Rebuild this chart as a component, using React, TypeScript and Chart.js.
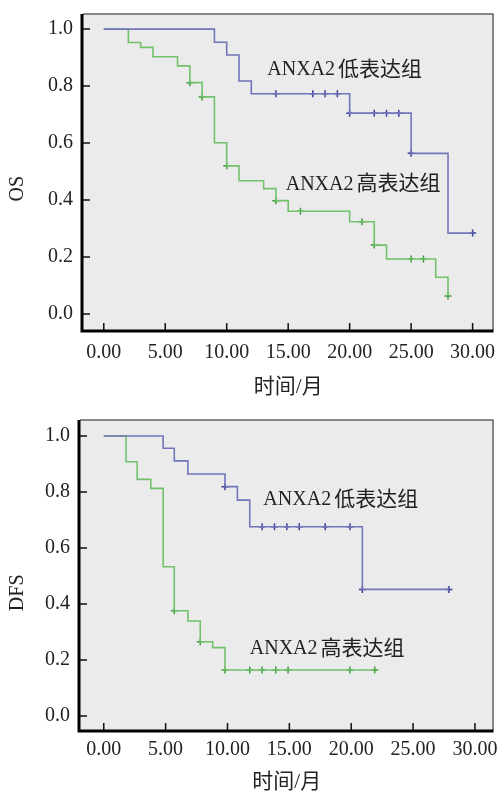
import React, { useEffect, useRef } from "react";
import { Chart, registerables } from "chart.js";

Chart.register(...registerables);

// ---------- shared tick values / labels ----------
const xTickValues = [0, 5, 10, 15, 20, 25, 30];
const yTickValues = [0, 0.2, 0.4, 0.6, 0.8, 1.0];
const groupPrefix = "ANXA2";
const groupSuffixes = ["低表达组", "高表达组"];
const xTitleText = "时间/月";

// ---------- OS chart ----------
const osLowTimes = [0, 9, 10, 11, 12, 20, 25, 28, 30];
const osLowSurv = [1, 0.954, 0.909, 0.818, 0.773, 0.705, 0.564, 0.284, 0.284];
const osLowCensorTimes = [14, 17, 18, 19, 20, 22, 23, 24, 25, 30];
const osLowCensorSurv = [0.773, 0.773, 0.773, 0.773, 0.705, 0.705, 0.705, 0.705, 0.564, 0.284];
const osHighTimes = [0, 2, 3, 4, 6, 7, 8, 9, 10, 11, 13, 14, 15, 20, 22, 23, 27, 28];
const osHighSurv = [1, 0.953, 0.936, 0.903, 0.871, 0.812, 0.762, 0.601, 0.52, 0.468, 0.44, 0.398, 0.361, 0.324, 0.242, 0.193, 0.129, 0.063];
const osHighCensorTimes = [7, 8, 10, 14, 16, 21, 22, 25, 26, 28];
const osHighCensorSurv = [0.812, 0.762, 0.52, 0.398, 0.361, 0.324, 0.242, 0.193, 0.193, 0.063];
const osLabelAnchors = [[13.3, 0.856], [14.8, 0.453]]; // [time, survival] of label left-middle

// ---------- DFS chart ----------
const dfsLowTimes = [0, 4.8, 5.7, 6.8, 9.8, 10.8, 11.8, 20.9, 27.9];
const dfsLowSurv = [1, 0.956, 0.911, 0.864, 0.819, 0.771, 0.676, 0.452, 0.452];
const dfsLowCensorTimes = [9.8, 12.8, 13.8, 14.8, 15.8, 17.9, 19.9, 20.9, 27.9];
const dfsLowCensorSurv = [0.819, 0.676, 0.676, 0.676, 0.676, 0.676, 0.676, 0.452, 0.452];
const dfsHighTimes = [0, 1.8, 2.7, 3.8, 4.8, 5.7, 6.8, 7.8, 8.8, 9.8, 21.9];
const dfsHighSurv = [1, 0.908, 0.845, 0.813, 0.533, 0.376, 0.339, 0.265, 0.244, 0.164, 0.164];
const dfsHighCensorTimes = [5.7, 7.8, 9.8, 11.8, 12.8, 13.9, 14.9, 19.9, 21.9];
const dfsHighCensorSurv = [0.376, 0.265, 0.164, 0.164, 0.164, 0.164, 0.164, 0.164, 0.164];
const dfsLabelAnchors = [[12.9, 0.771], [11.8, 0.239]];

const LOW_LINE = "#7276bb";
const LOW_MARK = "#3c3f98";
const HIGH_LINE = "#72c26c";
const HIGH_MARK = "#3f9c3c";
const BG = "#ebebeb";
const SERIF = "'Liberation Serif', 'Noto Sans CJK SC', serif";

const pts = (t: number[], s: number[]) => t.map((x, i) => ({ x, y: s[i] }));

type Spec = {
  yTitle: string;
  lowT: number[]; lowS: number[]; lowCT: number[]; lowCS: number[];
  highT: number[]; highS: number[]; highCT: number[]; highCS: number[];
  anchors: number[][];
  xMin: number; xMax: number; yMin: number; yMax: number;
  yWidth: number; xHeight: number; padTop: number;
  xTitleOffset: number; xTickPad: number;
};

function makeConfig(sp: Spec): any {
  const decor = {
    id: "decor",
    beforeDatasetsDraw(chart: any) {
      const { ctx, chartArea: a } = chart;
      ctx.save();
      ctx.fillStyle = BG;
      ctx.fillRect(a.left, a.top, a.right - a.left, a.bottom - a.top);
      ctx.restore();
    },
    afterDatasetsDraw(chart: any) {
      const { ctx, chartArea: a } = chart;
      const xs = chart.scales.x;
      const ys = chart.scales.y;
      ctx.save();
      // thin top / right frame
      ctx.strokeStyle = "#666";
      ctx.lineWidth = 1.5;
      ctx.beginPath();
      ctx.moveTo(a.left, a.top);
      ctx.lineTo(a.right - 0.5, a.top);
      ctx.lineTo(a.right - 0.5, a.bottom);
      ctx.stroke();
      // inner tick marks
      ctx.strokeStyle = "#111";
      ctx.lineWidth = 1.5;
      ctx.beginPath();
      yTickValues.forEach((v) => {
        const py = ys.getPixelForValue(v);
        ctx.moveTo(a.left, py);
        ctx.lineTo(a.left + 7, py);
      });
      xTickValues.forEach((v) => {
        const px = xs.getPixelForValue(v);
        ctx.moveTo(px, a.bottom);
        ctx.lineTo(px, a.bottom - 7);
      });
      ctx.stroke();
      // thick left / bottom axes
      ctx.strokeStyle = "#000";
      ctx.lineWidth = 3;
      ctx.beginPath();
      ctx.moveTo(a.left - 1, a.top);
      ctx.lineTo(a.left - 1, a.bottom + 1);
      ctx.lineTo(a.right, a.bottom + 1);
      ctx.stroke();
      ctx.restore();
    },
    afterDraw(chart: any) {
      const { ctx, chartArea: a } = chart;
      const xs = chart.scales.x;
      const ys = chart.scales.y;
      ctx.save();
      ctx.fillStyle = "#222";
      ctx.textAlign = "left";
      ctx.textBaseline = "middle";
      sp.anchors.forEach((an, i) => {
        const px = xs.getPixelForValue(an[0]);
        const py = ys.getPixelForValue(an[1]);
        ctx.font = `20px ${SERIF}`;
        ctx.fillText(groupPrefix, px, py);
        const w = ctx.measureText(groupPrefix).width;
        ctx.font = `21px ${SERIF}`;
        ctx.fillText(groupSuffixes[i], px + w + 3, py);
      });
      // y title
      ctx.save();
      ctx.translate(18, ys.getPixelForValue(0.44));
      ctx.rotate(-Math.PI / 2);
      ctx.textAlign = "center";
      ctx.font = `20px ${SERIF}`;
      ctx.fillText(sp.yTitle, 0, 0);
      ctx.restore();
      // x title
      ctx.textAlign = "center";
      ctx.font = `21px ${SERIF}`;
      ctx.fillText(xTitleText, (a.left + a.right) / 2, a.bottom + sp.xTitleOffset);
      ctx.restore();
    },
  };

  const lineDs = (t: number[], s: number[], color: string) => ({
    data: pts(t, s),
    borderColor: color,
    borderWidth: 1.6,
    pointRadius: 0,
    stepped: "before",
    fill: false,
  });
  const censorDs = (t: number[], s: number[], color: string) => ({
    data: pts(t, s),
    showLine: false,
    pointStyle: "cross",
    pointRadius: 3.5,
    pointBorderWidth: 1.5,
    pointBorderColor: color,
    pointBackgroundColor: color,
  });

  return {
    type: "line",
    data: {
      datasets: [
        lineDs(sp.lowT, sp.lowS, LOW_LINE),
        lineDs(sp.highT, sp.highS, HIGH_LINE),
        censorDs(sp.lowCT, sp.lowCS, LOW_MARK),
        censorDs(sp.highCT, sp.highCS, HIGH_MARK),
      ],
    },
    options: {
      animation: false,
      responsive: false,
      maintainAspectRatio: false,
      layout: { padding: { top: sp.padTop, right: 1, left: 0, bottom: 0 } },
      plugins: { legend: { display: false }, tooltip: { enabled: false }, title: { display: false } },
      scales: {
        x: {
          type: "linear",
          min: sp.xMin,
          max: sp.xMax,
          grid: { display: false, drawTicks: false },
          border: { display: false },
          afterBuildTicks: (s: any) => { s.ticks = xTickValues.map((v) => ({ value: v })); },
          afterFit: (s: any) => {
            s.height = sp.xHeight;
            s.paddingLeft = 0; s.paddingRight = 0; s.paddingTop = 0; s.paddingBottom = 0;
          },
          ticks: {
            autoSkip: false,
            maxRotation: 0,
            padding: sp.xTickPad,
            color: "#222",
            font: { family: SERIF, size: 20 },
            callback: (v: any) => Number(v).toFixed(2),
          },
        },
        y: {
          type: "linear",
          min: sp.yMin,
          max: sp.yMax,
          grid: { display: false, drawTicks: false },
          border: { display: false },
          afterBuildTicks: (s: any) => { s.ticks = yTickValues.map((v) => ({ value: v })); },
          afterFit: (s: any) => {
            s.width = sp.yWidth;
            s.paddingLeft = 0; s.paddingRight = 0; s.paddingTop = 0; s.paddingBottom = 0;
          },
          ticks: {
            autoSkip: false,
            padding: 10,
            color: "#222",
            font: { family: SERIF, size: 20 },
            callback: (v: any) => Number(v).toFixed(1),
          },
        },
      },
    },
    plugins: [decor],
  };
}

const osSpec: Spec = {
  yTitle: "OS",
  lowT: osLowTimes, lowS: osLowSurv, lowCT: osLowCensorTimes, lowCS: osLowCensorSurv,
  highT: osHighTimes, highS: osHighSurv, highCT: osHighCensorTimes, highCS: osHighCensorSurv,
  anchors: osLabelAnchors,
  xMin: -1.69, xMax: 31.7, yMin: -0.056, yMax: 1.053,
  yWidth: 83, xHeight: 70, padTop: 14, xTitleOffset: 57, xTickPad: 11,
};

const dfsSpec: Spec = {
  yTitle: "DFS",
  lowT: dfsLowTimes, lowS: dfsLowSurv, lowCT: dfsLowCensorTimes, lowCS: dfsLowCensorSurv,
  highT: dfsHighTimes, highS: dfsHighSurv, highCT: dfsHighCensorTimes, highCS: dfsHighCensorSurv,
  anchors: dfsLabelAnchors,
  xMin: -1.92, xMax: 31.5, yMin: -0.05, yMax: 1.057,
  yWidth: 80, xHeight: 61, padTop: 20, xTitleOffset: 52, xTickPad: 8,
};

function KMChart({ spec, top, height }: { spec: Spec; top: number; height: number }) {
  const ref = useRef<HTMLCanvasElement | null>(null);
  useEffect(() => {
    if (!ref.current) return;
    const chart = new Chart(ref.current, makeConfig(spec));
    return () => chart.destroy();
  }, [spec]);
  return (
    <canvas
      ref={ref}
      width={499}
      height={height}
      style={{ position: "absolute", left: 0, top, width: 499, height, display: "block" }}
    />
  );
}

export default function App() {
  return (
    <div style={{ position: "absolute", left: 0, top: 0, width: 499, height: 791, background: "#fff", overflow: "hidden" }}>
      <KMChart spec={osSpec} top={0} height={400} />
      <KMChart spec={dfsSpec} top={400} height={391} />
    </div>
  );
}
